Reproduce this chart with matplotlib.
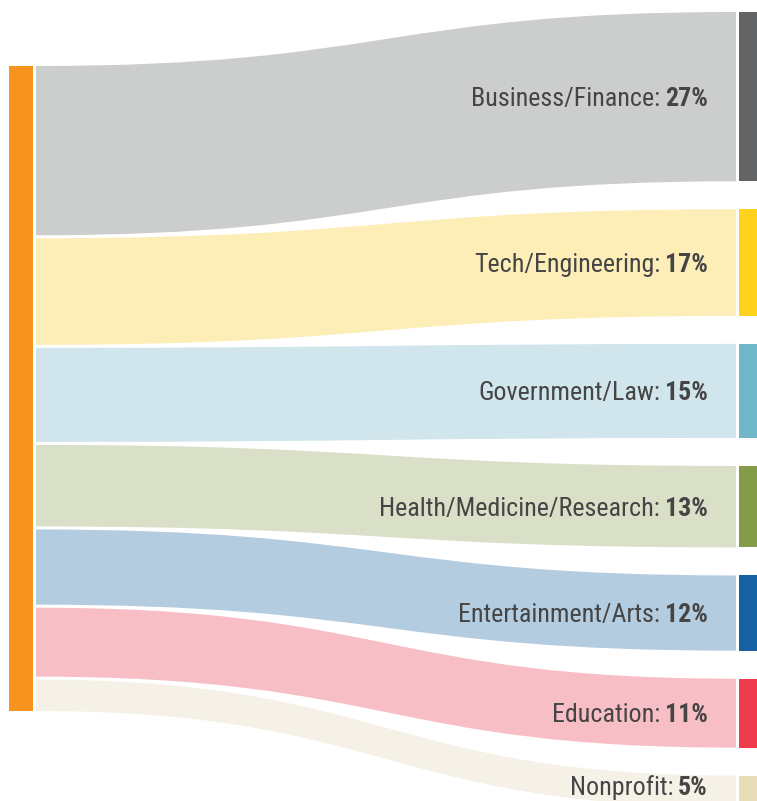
import matplotlib.pyplot as plt
from matplotlib.path import Path
from matplotlib.patches import PathPatch, Rectangle

# career fields and their share of graduates (%)
fields = ['Business/Finance', 'Tech/Engineering', 'Government/Law',
          'Health/Medicine/Research', 'Entertainment/Arts', 'Education',
          'Nonprofit']
shares = [27, 17, 15, 13, 12, 11, 5]

source_color = '#F7941D'
flow_colors = ['#CCCDCD', '#FDEEB8', '#D1E6EC', '#D9E0C7', '#B4CCE0',
               '#F8BEC5', '#F5F1E6']
node_colors = ['#636466', '#FFD21E', '#6FB6C8', '#849C48', '#1762A3',
               '#EE3A4B', '#E8DDB8']

# layout in pixels
W, H = 757, 801
px_per_pct = 6.27
left_x, left_w, left_top, left_gap = 9, 24, 66, 3
flow_x0, flow_x1 = 36, 736
right_x, right_w, right_top, right_gap = 739, 24, 12, 28
label_x = 708
text_color = '#454545'
font = ['Roboto Condensed', 'DejaVu Sans']
fsize = 18.7

fig = plt.figure(figsize=(W / 100, H / 100), dpi=100)
ax = fig.add_axes([0, 0, 1, 1])
ax.set_xlim(0, W)
ax.set_ylim(H, 0)
ax.axis('off')

heights = [s * px_per_pct for s in shares]

# left (source) positions
left_pos = []
y = left_top
for h in heights:
    left_pos.append((y, y + h))
    y += h + left_gap
left_bottom = left_pos[-1][1]

# right (target) positions
right_pos = []
y = right_top
for h in heights:
    right_pos.append((y, y + h))
    y += h + right_gap

ax.add_patch(Rectangle((left_x, left_top), left_w, left_bottom - left_top,
                       color=source_color, lw=0))

xm = (flow_x0 + flow_x1) / 2
for (l0, l1), (r0, r1), fc, nc in zip(left_pos, right_pos, flow_colors, node_colors):
    verts = [(flow_x0, l0), (xm, l0), (xm, r0), (flow_x1, r0),
             (flow_x1, r1), (xm, r1), (xm, l1), (flow_x0, l1), (flow_x0, l0)]
    codes = [Path.MOVETO, Path.CURVE4, Path.CURVE4, Path.CURVE4,
             Path.LINETO, Path.CURVE4, Path.CURVE4, Path.CURVE4, Path.CLOSEPOLY]
    ax.add_patch(PathPatch(Path(verts, codes), facecolor=fc, lw=0))
    ax.add_patch(Rectangle((right_x, r0), right_w, r1 - r0, color=nc, lw=0))

# labels: regular name followed by bold percentage, right aligned
fig.canvas.draw()
renderer = fig.canvas.get_renderer()
for name, share, (r0, r1) in zip(fields, shares, right_pos):
    base = min((r0 + r1) / 2 + 9, H - 6)
    pct = ax.text(label_x, base, f'{share}%', ha='right', va='baseline',
                  fontsize=fsize, fontweight='bold', color=text_color, family=font)
    bb = pct.get_window_extent(renderer)
    x_left = ax.transData.inverted().transform((bb.x0, 0))[0]
    ax.text(x_left - 5, base, f'{name}:', ha='right', va='baseline',
            fontsize=fsize, color=text_color, family=font)

fig.savefig('out.png', dpi=100)
